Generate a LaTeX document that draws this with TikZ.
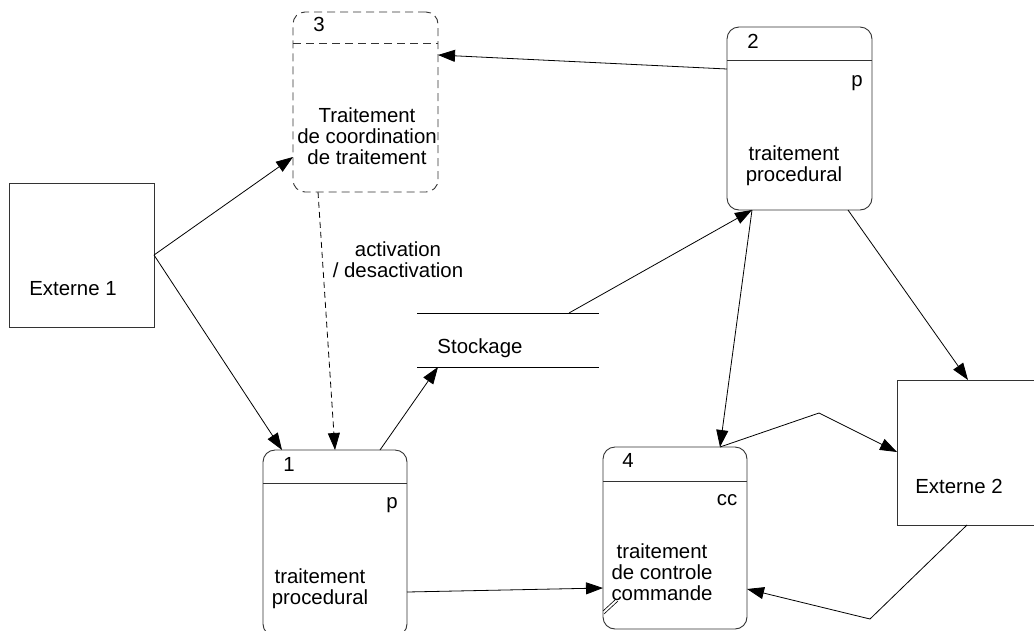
\documentclass[tikz,border=0pt]{standalone}
\usepackage{fontspec}
\setmainfont{Liberation Sans}
\usetikzlibrary{calc,arrows.meta}
\begin{document}
\begin{tikzpicture}[x=1pt,y=-1pt,
  box/.style={draw=black!80, line width=0.9pt, rectangle, outer sep=0pt, inner sep=0pt, anchor=north west},
  proc/.style={box, rounded corners=12pt},
  divider/.style={draw=black!80, line width=0.9pt},
  lbl/.style={anchor=base, inner sep=0pt, align=center, font=\fontsize{20.4}{20.6}\selectfont},
  flow/.style={line width=0.8pt, -{Triangle[length=17pt,width=12pt]}},
  dashflow/.style={flow, dash pattern=on 6pt off 4pt},
  dashbox/.style={dash pattern=on 8pt off 5pt}
]
\clip (0,0) rectangle (1034,630);

% external entities
\node[box, minimum width=145, minimum height=144] (ext1) at (9,183) {};
\node[box, minimum width=150, minimum height=145] (ext2) at (897,380) {};

% processes
\node[proc, dashbox, minimum width=145, minimum height=180] (p3) at (293,12) {};
\node[proc, minimum width=145, minimum height=183] (p2) at (727,27) {};
\node[proc, minimum width=144, minimum height=186] (p1) at (263,450) {};
\node[proc, minimum width=144, minimum height=182] (p4) at (603,447) {};

\draw[divider, dashbox] ($(p3.north west)+(0,31)$) -- ($(p3.north east)+(0,31)$);
\draw[divider] ($(p2.north west)+(0,33)$) -- ($(p2.north east)+(0,33)$);
\draw[divider] ($(p1.north west)+(0,33)$) -- ($(p1.north east)+(0,33)$);
\draw[divider] ($(p4.north west)+(0,34)$) -- ($(p4.north east)+(0,34)$);

% data store
\node[inner sep=0pt, outer sep=0pt, minimum width=182, minimum height=54] (store) at (508,340) {};
\draw[line width=0.9pt] (store.north west) -- (store.north east);
\draw[line width=0.9pt] (store.south west) -- (store.south east);

% texts
\node[lbl] (ext1txt) at (73,295) {Externe 1};
\node[lbl] (ext2txt) at (959,493) {Externe 2};
\node[lbl] (p3num) at (319,31) {3};
\node[lbl] (p3txt) at (367,164) {Traitement\\de coordination\\de traitement};
\node[lbl] (p2num) at (753,48) {2};
\node[lbl] (p2kind) at (857,86) {p};
\node[lbl] (p2txt) at (794,181) {traitement\\procedural};
\node[lbl] (p1num) at (289,471) {1};
\node[lbl] (p1kind) at (392,508) {p};
\node[lbl] (p1txt) at (320,604) {traitement\\procedural};
\node[lbl] (p4num) at (628,467) {4};
\node[lbl] (p4kind) at (727,505) {cc};
\node[lbl] (p4txt) at (662,600) {traitement\\de controle\\commande};
\node[lbl] (storetxt) at (480,353) {Stockage};
\node[lbl] (acttxt) at (398,277) {activation\\/ desactivation};

% bend points of the two polylines
\coordinate (bendA) at (819,413);
\coordinate (bendB) at (870,619);

% flows
\draw[flow] ($(p2.north west)+(0,42)$) -- ($(p3.north east)+(0,43)$);
\draw[flow] (ext1.east) -- ($(p3.south west)+(0,-35)$);
\draw[flow] (ext1.east) -- ($(p1.north west)+(19,0)$);
\draw[dashflow] ($(p3.south west)+(25,0)$) -- ($(p1.north west)+(72,0)$);
\draw[flow] ($(p1.north west)+(117,0)$) -- ($(store.south west)+(21,0)$);
\draw[flow] ($(store.north west)+(152,0)$) -- ($(p2.south west)+(25,0)$);
\draw[flow] ($(p2.south west)+(25,0)$) -- ($(p4.north west)+(117,0)$);
\draw[flow] ($(p2.south west)+(121,0)$) -- ($(ext2.north west)+(71,0)$);
\draw[flow] ($(p4.north west)+(117,0)$) -- (bendA) -- ($(ext2.north west)+(0,72)$);
\draw[flow] ($(ext2.south west)+(70,0)$) -- (bendB) -- ($(p4.north east)+(0,142)$);
\draw[flow] ($(p1.north east)+(0,142)$) -- ($(p4.north west)+(0,141)$);

% small double stroke at the lower left of process 4
\draw[line width=0.6pt] ($(p4.north west)+(0,164)$) -- ($(p4.north west)+(13,152)$);
\draw[line width=0.6pt] ($(p4.north west)+(1,167)$) -- ($(p4.north west)+(15,154)$);
\end{tikzpicture}
\end{document}
